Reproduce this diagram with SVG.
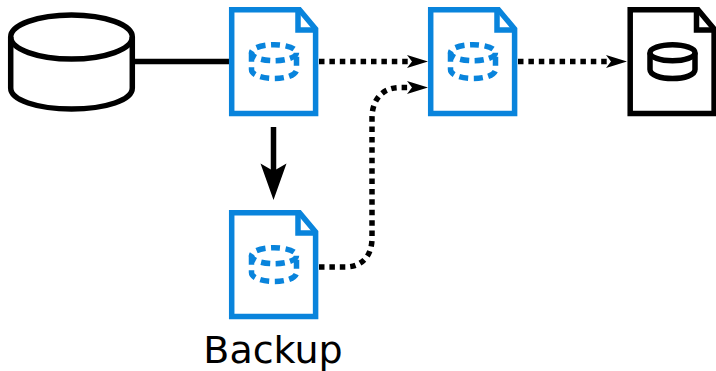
<svg xmlns="http://www.w3.org/2000/svg" width="716" height="371" viewBox="0 0 716 371">
<style>
.s{fill:none;stroke-width:5.500;stroke-linejoin:miter}
.blue{stroke:#0984dc}
.blk{stroke:#000}
.d{stroke-dasharray:9 5.500;stroke-linecap:butt}
.dot{fill:none;stroke:#000;stroke-width:5.500;stroke-dasharray:5.500 4.900;marker-end:url(#ah)}
text{font-family:"DejaVu Sans",sans-serif;font-size:38px;fill:#000}
</style>
<defs>
<marker id="ah" markerUnits="userSpaceOnUse" markerWidth="24" markerHeight="16" refX="6" refY="7" orient="auto"><path d="M0 0.500L21 7L0 13.500L5 7Z" fill="#000"/></marker>
<g id="doc"><path d="M231.700 9.700H299.500L315.600 29V113.500H231.700Z"/><path d="M298 9.700V30H315.600"/></g>
<g id="cyl"><ellipse cx="274" cy="52.700" rx="22.500" ry="8"/><path d="M251.500 52.700V69.500C251.500 75 262 78.500 274 78.500S296.500 75 296.500 69.500V52.700"/></g>
</defs>
<g id="connectors">
<path d="M135 61.500H229" fill="none" stroke="#000" stroke-width="5.500"/>
<path d="M273.500 127V172" fill="none" stroke="#000" stroke-width="5.500"/>
<path d="M260.500 163.500L273.500 171L286.500 163.500L273.500 200Z" fill="#000"/>
<path class="dot" d="M319 61.500H413"/>
<path class="dot" d="M518 61.500H612"/>
<path class="dot" d="M319 267H345C362 267 372 256 372 238V118C372 100 382 87.500 400 87.500H413"/>
</g>
<g id="source"><g class="s blk"><path d="M10.700 37V88C10.700 100 37 109 71.500 109S132.300 100 132.300 88V37"/><ellipse cx="71.500" cy="37" rx="60.800" ry="22"/></g></g>
<g id="file1" class="s blue"><use href="#doc"/><use href="#cyl" class="d"/></g>
<g id="file2" class="s blue" transform="translate(199 0)"><use href="#doc"/><use href="#cyl" class="d"/></g>
<g id="file3" class="s blk" transform="translate(398.500 0)"><use href="#doc"/><use href="#cyl"/></g>
<g id="backup" class="s blue" transform="translate(0 203)"><use href="#doc"/><use href="#cyl" class="d"/></g>
<text x="273" y="363" text-anchor="middle">Backup</text>
</svg>
